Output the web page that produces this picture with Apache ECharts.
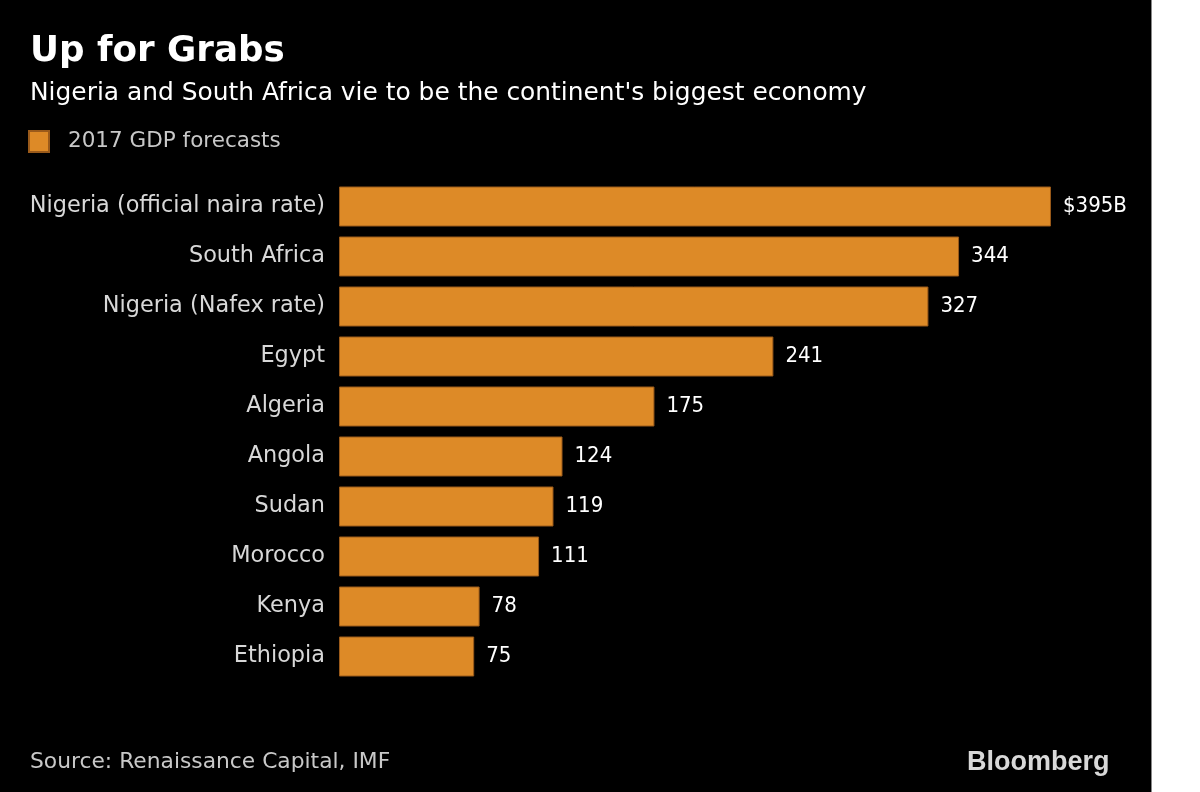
<!DOCTYPE html>
<html>
<head>
<meta charset="utf-8">
<style>
html,body{margin:0;padding:0;background:#fff;}
#c{width:1200px;height:792px;}
</style>
<script src="https://cdn.jsdelivr.net/npm/echarts@6/dist/echarts.min.js"></script>
</head>
<body>
<div id="c"></div>
<script>
const categories = ["Nigeria (official naira rate)", "South Africa", "Nigeria (Nafex rate)", "Egypt", "Algeria", "Angola", "Sudan", "Morocco", "Kenya", "Ethiopia"];
const values = [395, 344, 327, 241, 175, 124, 119, 111, 78, 75];
const seriesName = "2017 GDP forecasts";

const FONT = "'DejaVu Sans', sans-serif";
const FONT_C = "'DejaVu Sans Condensed', 'DejaVu Sans', sans-serif";
const chart = echarts.init(document.getElementById('c'));
chart.setOption({
  backgroundColor: '#000',
  animation: false,
  title: [
    {text: 'Up for Grabs', left: 25, top: 29, textStyle: {color: '#fff', fontFamily: FONT, fontWeight: 'bold', fontSize: 35.7}},
    {text: "Nigeria and South Africa vie to be the continent's biggest economy", left: 25, top: 76, textStyle: {color: '#fff', fontFamily: FONT, fontWeight: 'normal', fontSize: 24.9}},
    {text: 'Source: Renaissance Capital, IMF', left: 25, top: 746, textStyle: {color: '#c8c8c8', fontFamily: FONT, fontWeight: 'normal', fontSize: 21.8}},
    {text: 'Bloomberg', left: 962, top: 744, textStyle: {color: '#d8d8d8', fontFamily: "'Liberation Sans', Arial, sans-serif", fontWeight: 'bold', fontSize: 27}}
  ],
  legend: {
    left: 23, top: 125, itemWidth: 20, itemHeight: 21, itemGap: 10,
    icon: 'rect',
    textStyle: {color: '#c8c8c8', fontFamily: FONT, fontSize: 21.5, padding: [0,0,0,14]},
    data: [seriesName]
  },
  grid: {left: 339, top: 181.5, height: 500, width: 721, containLabel: false},
  xAxis: {type: 'value', min: 0, max: 400, show: false},
  yAxis: {
    type: 'category', inverse: true, data: categories,
    axisLine: {show: false}, axisTick: {show: false},
    axisLabel: {color: '#d8d8d8', fontFamily: FONT, fontSize: 22.4, margin: 14}
  },
  graphic: [
    {type: 'rect', shape: {x: 1152, y: 0, width: 48, height: 792}, style: {fill: '#fff'}, silent: true},
    {type: 'rect', shape: {x: 1151, y: 0, width: 1, height: 792}, style: {fill: '#888'}, silent: true}
  ],
  series: [{
    name: seriesName, type: 'bar', data: values, barCategoryGap: '20%',
    itemStyle: {color: '#dd8a27', borderColor: '#9a5a1a', borderWidth: 1},
    label: {
      show: true, position: 'right', distance: 12, color: '#fff', fontFamily: FONT_C, fontSize: 22,
      formatter: p => p.dataIndex === 0 ? '$' + p.value + 'B' : String(p.value)
    }
  }]
});
</script>
</body>
</html>
